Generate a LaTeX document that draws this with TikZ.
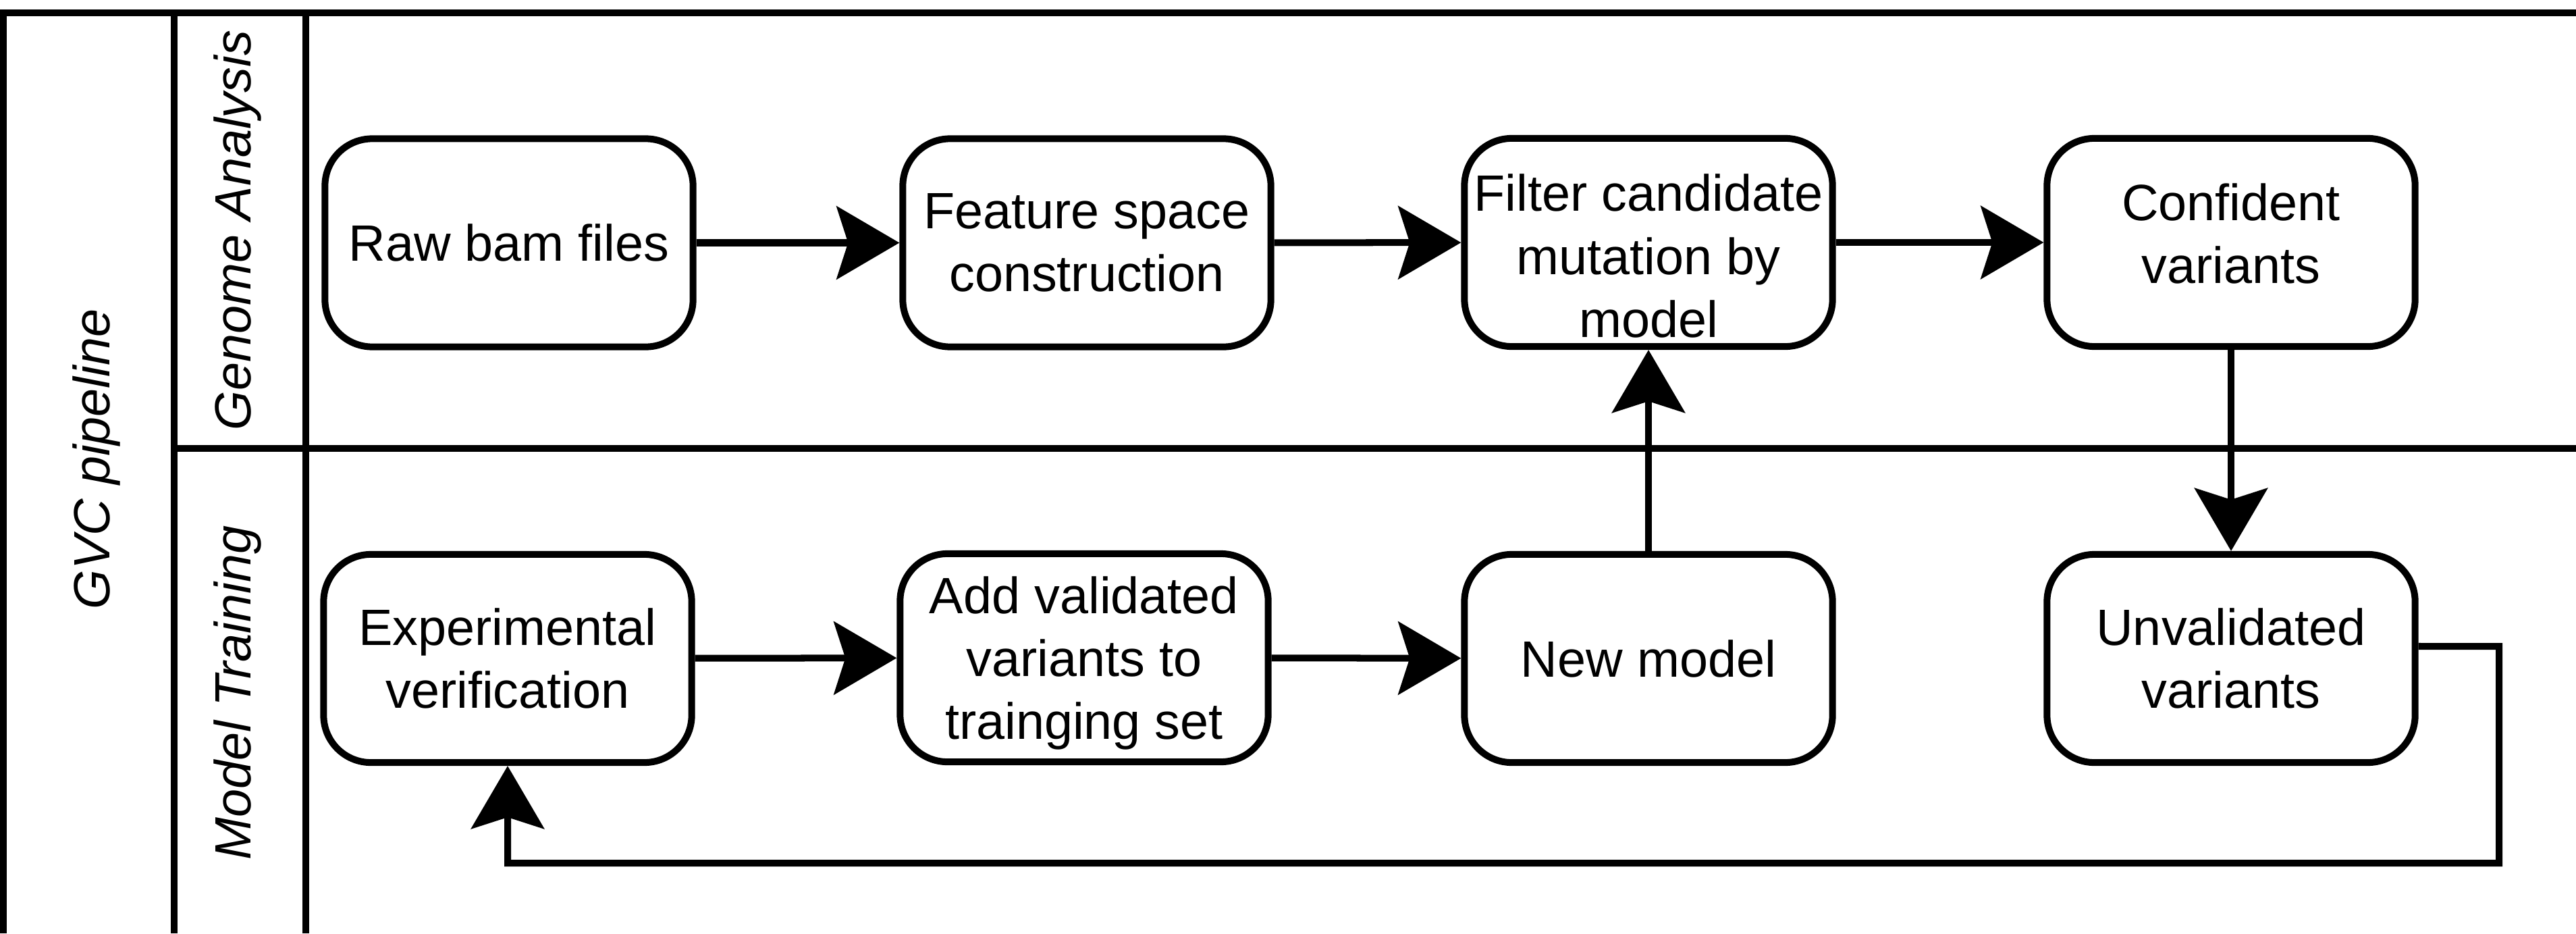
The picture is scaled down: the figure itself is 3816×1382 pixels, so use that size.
\documentclass[tikz,border=0pt]{standalone}
\usepackage{fontspec}
\setmainfont{Liberation Sans}
\usetikzlibrary{arrows.meta,calc}
\begin{document}
\begin{tikzpicture}[x=0.01cm,y=-0.01cm,
  txt/.style={align=center, inner sep=0pt, font=\fontsize{21.5pt}{26.5pt}\selectfont},
  proc/.style={draw, line width=0.1cm, rounded corners=0.7cm, minimum width=5.45cm, minimum height=3.08cm, txt},
  lane/.style={line width=0.1cm},
  flow/.style={line width=0.1cm, -{Stealth[length=0.93cm,width=1.08cm,inset=0.17cm]}},
  lanelabel/.style={rotate=90, inner sep=0pt, font=\fontsize{21.5pt}{26.5pt}\selectfont\itshape}]
\useasboundingbox (0,0) rectangle (3816,1382);
% swimlane frame
\draw[lane] (3816,19) -- (5,19) -- (5,1382);
\draw[lane] (258,19) -- (258,1382);
\draw[lane] (453,19) -- (453,1382);
\draw[lane] (258,664) -- (3816,664);
\node[lanelabel] (gvc) at (143,680) {GVC pipeline};
\node[lanelabel] (ga) at (352,341) {Genome Analysis};
\node[lanelabel] (mt) at (352,1026) {Model Training};
% process boxes
\node[proc] (raw) at (754,359.5) {Raw bam files};
\node[proc] (feat) at (1610,359.5) {Feature space\\construction};
\node[proc, label={[txt, yshift=-0.2cm]center:Filter candidate\\mutation by\\model}] (filt) at (2442,359) {};
\node[proc, label={[txt, yshift=0.13cm]center:Confident\\variants}] (conf) at (3305,359) {};
\node[proc] (exp) at (752,975) {Experimental\\verification};
\node[proc, label={[txt, yshift=-0.08cm]center:Add validated\\variants to\\trainging set}] (add) at (1606,974) {};
\node[proc] (new) at (2442,975) {New model};
\node[proc] (unval) at (3305,975) {Unvalidated\\variants};
\coordinate (fbA) at (3702,957);
\coordinate (fbB) at (3702,1278);
% connectors
\draw[flow] (raw) -- (feat);
\draw[flow] (feat) -- (filt);
\draw[flow] (filt) -- (conf);
\draw[flow] (conf) -- (unval);
\draw[flow] (exp) -- (add);
\draw[flow] (add) -- (new);
\draw[flow] (new) -- (filt);
\draw[flow] ([yshift=0.18cm]unval.east) -- (fbA) -- (fbB) -| (exp.south);
\end{tikzpicture}
\end{document}
